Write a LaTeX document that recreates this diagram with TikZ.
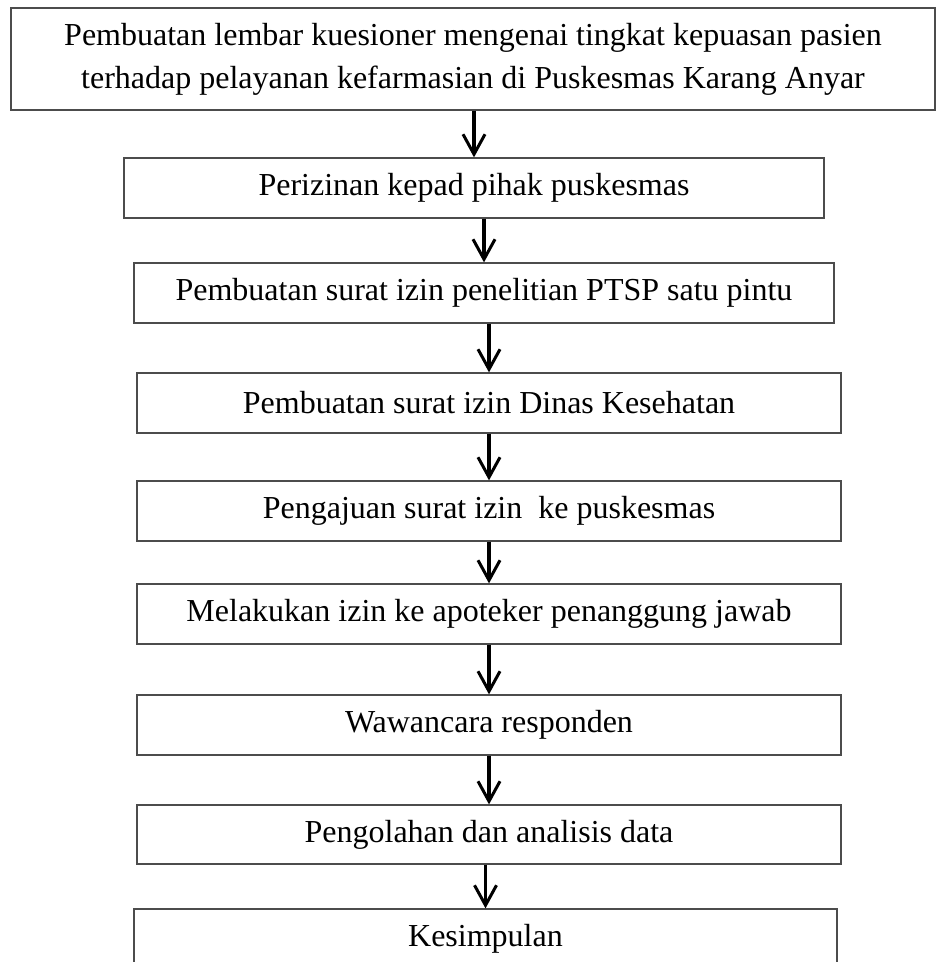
\documentclass[tikz,border=0pt]{standalone}
\usepackage{fontspec}
\setmainfont{Liberation Serif}
\usepackage{tikz}
\usetikzlibrary{arrows.meta}
\usetikzlibrary{positioning}

\tikzset{
	kotak/.style={draw=black!70, line width=0.65pt, minimum height=30pt, inner sep=0pt,
		align=center, font=\fontsize{16}{21.5}\selectfont},
	panah/.style={-{Straight Barb[length=10pt,width=11pt,line width=1.5pt]}, line width=1.6pt}
}

\begin{document}
\begin{tikzpicture}[x=0.5pt,y=-0.5pt]
		\useasboundingbox (0,0) rectangle (936,962);
		\clip (0,0) rectangle (936,962);
		\node[kotak, minimum width=462pt, minimum height=51pt] (b1) at (473,59)
			{Pembuatan lembar kuesioner mengenai tingkat kepuasan pasien\\terhadap pelayanan kefarmasian di Puskesmas Karang Anyar};
		\node[kotak, minimum width=350pt] (b2) at (474,188) {Perizinan kepad pihak puskesmas};
		\node[kotak, minimum width=350pt] (b3) at (484,293) {Pembuatan surat izin penelitian PTSP satu pintu};
		\node[kotak, minimum width=352pt] (b4) at (489,403) {Pembuatan surat izin Dinas Kesehatan};
		\node[kotak, minimum width=352pt] (b5) at (489,511) {Pengajuan surat izin\ \ ke puskesmas};
		\node[kotak, minimum width=352pt] (b6) at (489,614) {Melakukan izin ke apoteker penanggung jawab};
		\node[kotak, minimum width=352pt] (b7) at (489,725) {Wawancara responden};
		\node[kotak, minimum width=352pt, minimum height=29.5pt] (b8) at (489,834.5) {Pengolahan dan analisis data};
		\node[kotak, minimum width=351.5pt] (b9) at (485.5,939) {Kesimpulan};
		\foreach \a/\b in {b1/b2,b2/b3,b3/b4,b4/b5,b5/b6,b6/b7,b7/b8,b8/b9}
		{
			\draw[panah] (\b.north |- \a.south) -- (\b.north);
		}
	\end{tikzpicture}
\end{document}
